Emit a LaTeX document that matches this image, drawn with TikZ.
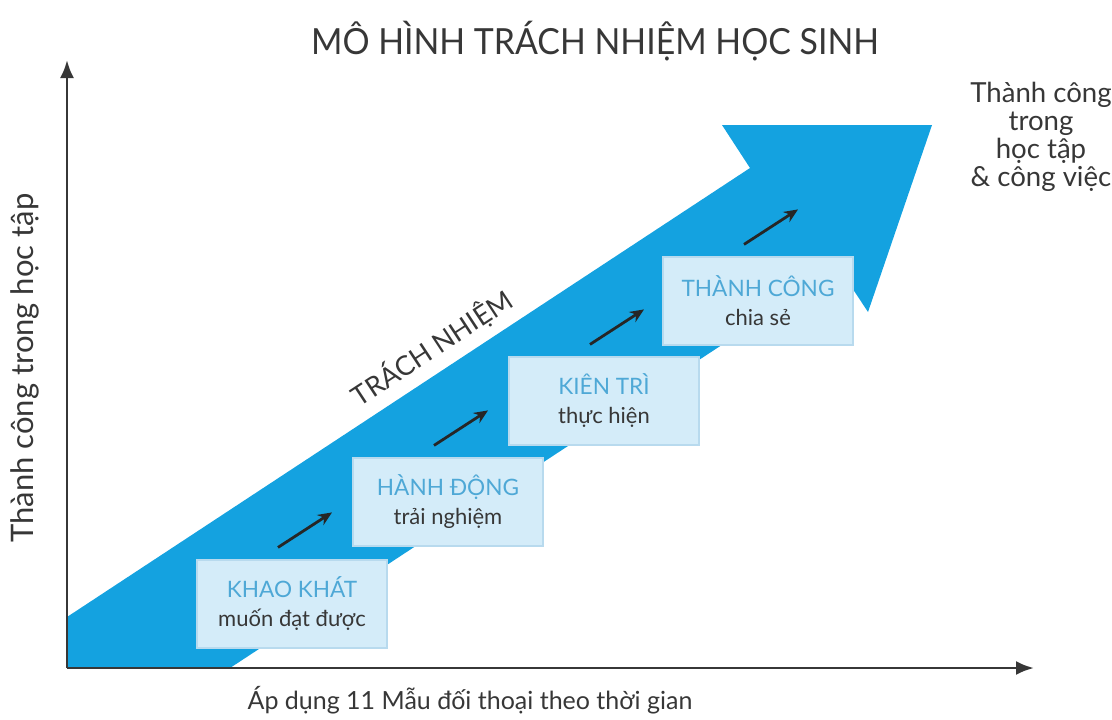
\documentclass[tikz,border=0pt]{standalone}
\usepackage{fontspec}
\setmainfont{Lato}
\usepackage{xcolor}
\usetikzlibrary{arrows.meta}
\definecolor{bandblue}{RGB}{20,162,224}
\definecolor{boxfill}{RGB}{212,236,249}
\definecolor{boxedge}{RGB}{184,218,238}
\definecolor{steptext}{RGB}{78,168,214}
\definecolor{inkgray}{RGB}{55,55,55}
\tikzset{
  stepbox/.style={fill=boxfill, draw=boxedge, line width=0.6pt,
    minimum width=95pt, minimum height=44pt, align=center, inner sep=0pt},
  stepnote/.style={-{Stealth[length=7pt,width=6pt]}, line width=1.4pt, black!85},
  axisline/.style={-{Latex[length=9pt,width=7pt]}, line width=1.4pt, inkgray}
}
\newcommand{\steplabel}[2]{{\fontsize{11.3}{13}\selectfont\color{steptext}#1}\\[2.5pt]{\fontsize{11}{13}\selectfont\color{inkgray}#2}}

\begin{document}
\begin{tikzpicture}[x=0.5pt,y=-0.5pt]
  \useasboundingbox (0,0) rectangle (1112,719);
  % blue band with its head
  \fill[bandblue] (67,617) -- (750,168) -- (722,125) -- (932,125) -- (868,312)
    -- (839,268) -- (230,668) -- (67,668) -- cycle;
  % axes
  \coordinate (origin) at (67,668);
  \coordinate (ytop) at (67,60);
  \coordinate (xend) at (1034,668);
  \draw[axisline] (origin) -- (ytop);
  \draw[axisline] (origin) -- (xend);
  % steps
  \node[stepbox] (k1) at (292,604) {\steplabel{KHAO KHÁT}{muốn đạt được}};
  \node[stepbox] (k2) at (448,502) {\steplabel{HÀNH ĐỘNG}{trải nghiệm}};
  \node[stepbox] (k3) at (604,401) {\steplabel{KIÊN TRÌ}{thực hiện}};
  \node[stepbox] (k4) at (758,301) {\steplabel{THÀNH CÔNG}{chia sẻ}};
  \foreach \i in {1,...,4} {
    \coordinate (a\i) at ([shift={(-14,-12)}]k\i.north);
    \coordinate (b\i) at ([shift={(40,-47)}]k\i.north);
    \draw[stepnote] (a\i) -- (b\i);
  }
  % texts
  \node[inkgray, xscale=0.94, font=\fontsize{18}{20}\selectfont] (title) at (595,41) {MÔ HÌNH TRÁCH NHIỆM HỌC SINH};
  \node[inkgray, rotate=33.3, font=\fontsize{13.5}{15}\selectfont] (duty) at (432,348) {TRÁCH NHIỆM};
  \node[inkgray, rotate=90, font=\fontsize{15.5}{17}\selectfont] (ylab) at (25,368) {Thành công trong học tập};
  \node[inkgray, font=\fontsize{12.5}{14}\selectfont] (xlab) at (470,700) {Áp dụng 11 Mẫu đối thoại theo thời gian};
  \node[inkgray, align=center, font=\fontsize{13.8}{14}\selectfont] (goal) at (1041,137)
    {Thành công\\trong\\học tập\\\& công việc};
\end{tikzpicture}
\end{document}
